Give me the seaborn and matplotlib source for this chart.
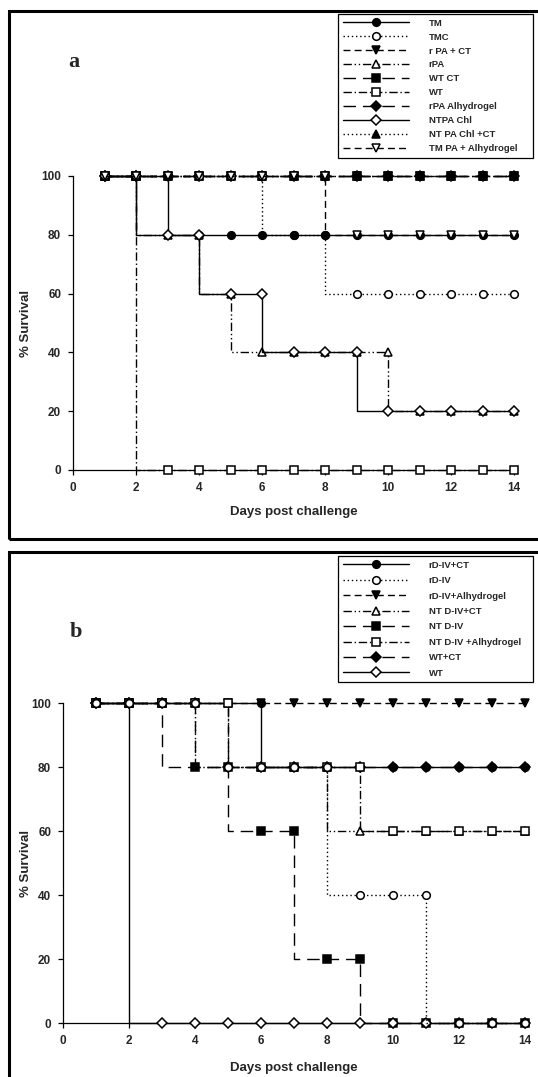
import matplotlib
matplotlib.use("Agg")
import matplotlib.pyplot as plt
from matplotlib.patches import Rectangle
import seaborn as sns
import pandas as pd

sns.set_theme(style="white")
plt.rcParams["font.family"] = ["Liberation Sans", "DejaVu Sans"]
plt.rcParams["font.weight"] = "bold"

days = list(range(1, 15))

# Panel a: % survival per group, days 1-14
a_labels = ["TM", "TMC", "r PA + CT", "rPA", "WT CT", "WT", "rPA Alhydrogel",
            "NTPA Chl", "NT PA Chl +CT", "TM PA + Alhydrogel"]
a_tm = [100, 100, 100, 80, 80, 80, 80, 80, 80, 80, 80, 80, 80, 80]
a_tmc = [100, 100, 100, 100, 100, 100, 80, 80, 60, 60, 60, 60, 60, 60]
a_rpa_ct = [100] * 14
a_rpa = [100, 100, 80, 80, 60, 40, 40, 40, 40, 40, 20, 20, 20, 20]
a_wt_ct = [100] * 14
a_wt = [100, 100, 0, 0, 0, 0, 0, 0, 0, 0, 0, 0, 0, 0]
a_rpa_alh = [100] * 14
a_ntpa_chl = [100, 100, 80, 80, 60, 60, 40, 40, 40, 20, 20, 20, 20, 20]
a_ntpa_chl_ct = [100] * 14
a_tmpa_alh = [100, 100, 100, 100, 100, 100, 100, 100, 80, 80, 80, 80, 80, 80]

# Panel b
b_labels = ["rD-IV+CT", "rD-IV", "rD-IV+Alhydrogel", "NT D-IV+CT", "NT D-IV",
            "NT D-IV +Alhydrogel", "WT+CT", "WT"]
b_rd4_ct = [100, 100, 100, 100, 100, 100, 80, 80, 80, 80, 80, 80, 80, 80]
b_rd4 = [100, 100, 100, 100, 80, 80, 80, 80, 40, 40, 40, 0, 0, 0]
b_rd4_alh = [100] * 14
b_nt4_ct = [100, 100, 100, 100, 100, 80, 80, 80, 60, 60, 60, 60, 60, 60]
b_nt4 = [100, 100, 100, 80, 80, 60, 60, 20, 20, 0, 0, 0, 0, 0]
b_nt4_alh = [100, 100, 100, 100, 100, 80, 80, 80, 80, 60, 60, 60, 60, 60]
b_wt_ct = [100, 100, 100, 100, 80, 80, 80, 80, 80, 80, 80, 80, 80, 80]
b_wt = [100, 100, 0, 0, 0, 0, 0, 0, 0, 0, 0, 0, 0, 0]

x_ticks = [0, 2, 4, 6, 8, 10, 12, 14]
y_ticks = [0, 20, 40, 60, 80, 100]

SOLID = "-"
DOT = (0, (1, 2))
DASH = (0, (5, 3))
DASHDOTDOT = (0, (6, 2, 1, 2, 1, 2))
LONGDASH = (0, (9, 5))
DASHDOT = (0, (6, 2, 1, 2))

# (values, label, marker, filled, linestyle, zorder)
series_a = [
    (a_tm, a_labels[0], "o", True, SOLID, 7),
    (a_tmc, a_labels[1], "o", False, DOT, 6),
    (a_rpa_ct, a_labels[2], "v", True, DASH, 1),
    (a_rpa, a_labels[3], "^", False, DASHDOTDOT, 8),
    (a_wt_ct, a_labels[4], "s", True, LONGDASH, 2),
    (a_wt, a_labels[5], "s", False, DASHDOT, 5),
    (a_rpa_alh, a_labels[6], "D", True, LONGDASH, 4),
    (a_ntpa_chl, a_labels[7], "D", False, SOLID, 9),
    (a_ntpa_chl_ct, a_labels[8], "^", True, DOT, 3),
    (a_tmpa_alh, a_labels[9], "v", False, DASH, 10),
]
series_b = [
    (b_rd4_ct, b_labels[0], "o", True, SOLID, 5),
    (b_rd4, b_labels[1], "o", False, DOT, 8),
    (b_rd4_alh, b_labels[2], "v", True, DASH, 1),
    (b_nt4_ct, b_labels[3], "^", False, DASHDOTDOT, 3),
    (b_nt4, b_labels[4], "s", True, LONGDASH, 2),
    (b_nt4_alh, b_labels[5], "s", False, DASHDOT, 6),
    (b_wt_ct, b_labels[6], "D", True, LONGDASH, 4),
    (b_wt, b_labels[7], "D", False, SOLID, 7),
]

W, H = 538, 1077
fig = plt.figure(figsize=(W / 100, H / 100), dpi=100)


def fx(px):
    return px / W


def fy(py):
    return 1 - py / H


def draw_panel(ax, series):
    handles = []
    for vals, label, mk, filled, ls, z in series:
        df = pd.DataFrame({"day": days, "survival": vals})
        sns.lineplot(data=df, x="day", y="survival", ax=ax, color="black",
                     linestyle=ls, linewidth=1.0, marker=mk,
                     markersize=5.5 if mk != "D" else 4.8,
                     markerfacecolor="black" if filled else "white",
                     markeredgecolor="black", markeredgewidth=1.1,
                     drawstyle="steps-pre", errorbar=None, zorder=z,
                     clip_on=False, label=label, legend=False)
        handles.append(ax.lines[-1])
    ax.set_xlim(0, 14)
    ax.set_ylim(0, 100)
    ax.set_xticks(x_ticks)
    ax.set_yticks(y_ticks)
    ax.set_xticklabels([str(t) for t in x_ticks], fontsize=8.5, fontweight="bold")
    ax.set_yticklabels([str(t) for t in y_ticks], fontsize=8.5, fontweight="bold")
    ax.tick_params(axis="both", direction="out", length=3.5, width=0.9,
                   color="black", pad=5, bottom=True, left=True)
    for side in ("top", "right"):
        ax.spines[side].set_visible(False)
    for side in ("left", "bottom"):
        ax.spines[side].set_color("black")
        ax.spines[side].set_linewidth(0.9)
    ax.set_facecolor("none")
    ax.set_xlabel("Days post challenge", fontsize=9.5, fontweight="bold")
    ax.set_ylabel("% Survival", fontsize=9.5, fontweight="bold")
    return handles


# panel a
ax_a = fig.add_axes([fx(73), fy(470), fx(514 - 73), (470 - 176) / H])
h_a = draw_panel(ax_a, series_a)
ax_a.xaxis.set_label_coords(0.5, -0.122)
ax_a.yaxis.set_label_coords(-0.093, 0.5)

# panel b
ax_b = fig.add_axes([fx(63), fy(1023), fx(525 - 63), (1023 - 703) / H])
h_b = draw_panel(ax_b, series_b)
ax_b.xaxis.set_label_coords(0.5, -0.122)
ax_b.yaxis.set_label_coords(-0.068, 0.5)

leg_kw = dict(loc="upper left", mode="expand", borderaxespad=0, frameon=True,
              fancybox=False, edgecolor="black", framealpha=1,
              prop={"size": 6.8, "weight": "bold"}, handlelength=7.0,
              handletextpad=2.1, borderpad=0.5)
leg_a = fig.legend(handles=h_a, labels=a_labels,
                   bbox_to_anchor=(fx(338), fy(14), fx(195), 0),
                   labelspacing=0.52, **leg_kw)
leg_a.get_frame().set_linewidth(0.9)
leg_b = fig.legend(handles=h_b, labels=b_labels,
                   bbox_to_anchor=(fx(338), fy(556), fx(195), 0),
                   labelspacing=0.68, **leg_kw)
leg_b.get_frame().set_linewidth(0.9)

# panel letters
fig.text(fx(74), fy(62), "a", fontsize=16, fontweight="bold",
         family=["Liberation Serif", "DejaVu Serif"], ha="center", va="center")
fig.text(fx(76), fy(632), "b", fontsize=16, fontweight="bold",
         family=["Liberation Serif", "DejaVu Serif"], ha="center", va="center")

# outer panel frames
for top, bottom in ((11, 539), (552, 1082)):
    fig.patches.append(Rectangle((fx(9), fy(bottom)), fx(540 - 9), (bottom - top) / H,
                                 transform=fig.transFigure, fill=False,
                                 edgecolor="black", linewidth=2.2))

fig.savefig("out.png", dpi=100, facecolor="white")
